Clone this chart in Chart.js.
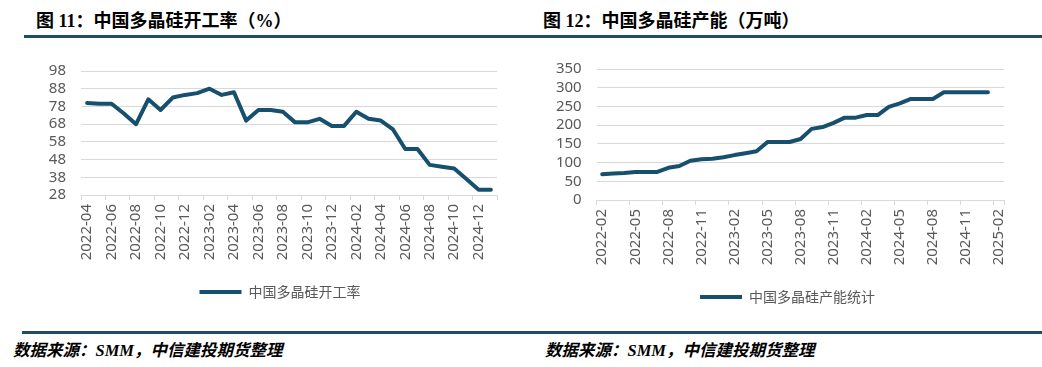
<!DOCTYPE html>
<html><head><meta charset="utf-8">
<script src="https://cdn.jsdelivr.net/npm/chart.js@4"></script>
<style>
html,body{margin:0;padding:0;background:#fff;width:1042px;height:367px;overflow:hidden;position:relative;}
.title{position:absolute;top:11px;font-weight:bold;font-size:18px;line-height:20px;font-family:"Liberation Serif","Noto Sans CJK SC";color:#000;white-space:nowrap;}
.rule{position:absolute;height:3px;background:#1d4f6b;}
.src{position:absolute;top:341px;font-style:italic;font-weight:bold;font-size:16.5px;line-height:20px;font-family:"Liberation Serif","Noto Sans CJK SC";color:#000;white-space:nowrap;}
canvas{position:absolute;}
</style></head><body>
<div class="title" style="left:36px">图 11：中国多晶硅开工率（%）</div>
<div class="title" style="left:543px">图 12：中国多晶硅产能（万吨）</div>
<div class="rule" style="left:24px;width:1018px;top:35px"></div>
<div class="rule" style="left:22px;width:1020px;top:331px"></div>
<div class="src" style="left:13px">数据来源：SMM，中信建投期货整理</div>
<div class="src" style="left:545px">数据来源：SMM，中信建投期货整理</div>
<canvas id="c1" width="560" height="264" style="left:0;top:45px"></canvas>
<canvas id="c2" width="535" height="269" style="left:520px;top:45px"></canvas>
<script>
// ---- data ----
const leftCategories = ['2022-04','2022-05','2022-06','2022-07','2022-08','2022-09','2022-10','2022-11','2022-12',
  '2023-01','2023-02','2023-03','2023-04','2023-05','2023-06','2023-07','2023-08','2023-09','2023-10','2023-11','2023-12',
  '2024-01','2024-02','2024-03','2024-04','2024-05','2024-06','2024-07','2024-08','2024-09','2024-10','2024-11','2024-12',
  '2025-01'];
const leftValues = [80,79.5,79.5,74,68,82,76,83,84.5,85.5,88,84.5,86,70,76,76,75,69,69,71,67,67,75,71,70,65,54,54,45,44,43,37,31,31];
const leftXTickLabels = ['2022-04','2022-06','2022-08','2022-10','2022-12','2023-02','2023-04','2023-06','2023-08',
  '2023-10','2023-12','2024-02','2024-04','2024-06','2024-08','2024-10','2024-12'];
const leftYTicks = [28,38,48,58,68,78,88,98];
const leftSeriesName = '中国多晶硅开工率';

const rightCategories = ['2022-02','2022-03','2022-04','2022-05','2022-06','2022-07','2022-08','2022-09','2022-10','2022-11','2022-12',
  '2023-01','2023-02','2023-03','2023-04','2023-05','2023-06','2023-07','2023-08','2023-09','2023-10','2023-11','2023-12',
  '2024-01','2024-02','2024-03','2024-04','2024-05','2024-06','2024-07','2024-08','2024-09','2024-10','2024-11','2024-12',
  '2025-01','2025-02'];
const rightValues = [69,71,72,75,75,75,86,91,105,109,110,114,120,125,130,155,155,155,163,190,195,206,220,220,227,227,249,258,270,270,270,288,288,288,288,288];
const rightXTickLabels = ['2022-02','2022-05','2022-08','2022-11','2023-02','2023-05','2023-08','2023-11',
  '2024-02','2024-05','2024-08','2024-11','2025-02'];
const rightYTicks = [0,50,100,150,200,250,300,350];
const rightSeriesName = '中国多晶硅产能统计';

// ---- styles ----
const LINE = '#17506f';
const GRID = '#d9d9d9';
const TXT = '#595959';

function makeChart(id, cats, vals, name, xLabels, yTicks, yWidth, spacerWidth, padTop) {
  const labelSet = new Set(xLabels);
  return new Chart(document.getElementById(id), {
    type: 'line',
    data: { labels: cats, datasets: [{
      label: name, data: vals, borderColor: LINE, backgroundColor: LINE,
      borderWidth: 4, pointRadius: 0, tension: 0, fill: false,
      borderCapStyle: 'round', borderJoinStyle: 'round'
    }]},
    options: {
      responsive: false, animation: false,
      layout: { padding: { left: 0, right: 0, top: padTop, bottom: 0 } },
      plugins: {
        tooltip: { enabled: false },
        legend: {
          position: 'bottom',
          labels: { usePointStyle: true, pointStyle: 'line', pointStyleWidth: 42, padding: 10,
            color: TXT, font: { size: 14, family: '"Noto Sans CJK SC", "Noto Sans", sans-serif' } }
        }
      },
      scales: {
        x: {
          type: 'category', offset: true,
          grid: { offset: true, drawOnChartArea: false, drawTicks: true, tickLength: 5, lineWidth: 1,
            color: c => (c.index === undefined || c.index >= cats.length || labelSet.has(cats[c.index])) ? GRID : 'rgba(0,0,0,0)' },
          border: { display: true, color: GRID, width: 1 },
          ticks: { autoSkip: false, minRotation: 90, maxRotation: 90, padding: 4, color: TXT,
            font: { size: 15, family: '"Noto Sans", sans-serif' },
            callback: function(v, i) { const l = cats[i]; return labelSet.has(l) ? l : ''; } },
          afterFit: s => { s.height = 80; }
        },
        y: {
          min: yTicks[0], max: yTicks[yTicks.length - 1],
          grid: { color: GRID, lineWidth: 1, drawTicks: false },
          border: { display: false },
          ticks: { autoSkip: false, padding: 15, color: TXT, font: { size: 15, family: '"Noto Sans", sans-serif' } },
          afterBuildTicks: s => { s.ticks = yTicks.map(v => ({ value: v })); },
          afterFit: s => { s.width = yWidth; }
        },
        spacer: {
          type: 'linear', position: 'right', display: true,
          grid: { display: false }, border: { display: false }, ticks: { display: false },
          afterFit: s => { s.width = spacerWidth; }
        }
      }
    }
  });
}

makeChart('c1', leftCategories, leftValues, leftSeriesName, leftXTickLabels, leftYTicks, 81, 63, 26);
makeChart('c2', rightCategories, rightValues, rightSeriesName, rightXTickLabels, rightYTicks, 76.7, 50.5, 20);
</script>
</body></html>
